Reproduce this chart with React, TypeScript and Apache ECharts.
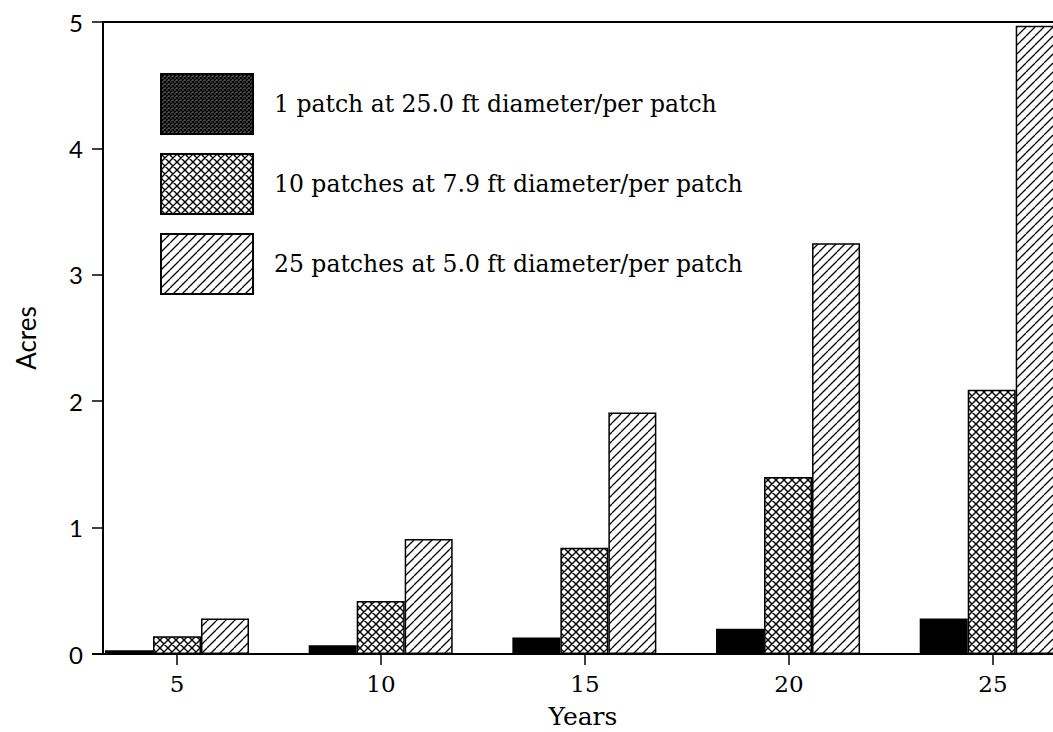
import React, { useEffect, useRef } from "react";
import * as echarts from "echarts";

const years = [5, 10, 15, 20, 25];
const yearLabels = years.map(String);
const onePatch = [0.03, 0.07, 0.13, 0.2, 0.28];
const tenPatches = [0.14, 0.42, 0.84, 1.4, 2.09];
const twentyFivePatches = [0.28, 0.91, 1.91, 3.25, 4.97];
const seriesNames = [
  "1 patch at 25.0 ft diameter/per patch",
  "10 patches at 7.9 ft diameter/per patch",
  "25 patches at 5.0 ft diameter/per patch",
];
const yTicks = [0, 1, 2, 3, 4, 5];

function makeTile(size: number, slash: boolean, back: boolean, lw: number, bg = "#fff") {
  const c = document.createElement("canvas");
  c.width = size;
  c.height = size;
  const ctx = c.getContext("2d")!;
  ctx.fillStyle = bg;
  ctx.fillRect(0, 0, size, size);
  ctx.strokeStyle = "#000";
  ctx.lineWidth = lw;
  ctx.beginPath();
  for (const o of [-size, 0, size]) {
    if (slash) {
      ctx.moveTo(o, size);
      ctx.lineTo(o + size, 0);
    }
    if (back) {
      ctx.moveTo(o, 0);
      ctx.lineTo(o + size, size);
    }
  }
  ctx.stroke();
  return c;
}

export default function App() {
  const ref = useRef<HTMLDivElement>(null);
  useEffect(() => {
    if (!ref.current) return;
    const chart = echarts.init(ref.current, undefined, { renderer: "svg" });
    const diag = { image: makeTile(9, true, false, 1.3), repeat: "repeat" };
    const cross = { image: makeTile(8, true, true, 1.4), repeat: "repeat" };
    const dense = { image: makeTile(4, true, true, 1.2, "#555"), repeat: "repeat" };
    const fills: any[] = ["#000", cross, diag];
    const valuesList = [onePatch, tenPatches, twentyFivePatches];
    chart.setOption({
      animation: false,
      grid: [
        {
          left: 103,
          top: 22,
          right: -10,
          bottom: 78,
          show: true,
          borderColor: "#000",
          borderWidth: 2,
          containLabel: false,
          outerBoundsMode: "none",
        },
        {
          left: 75,
          top: 22,
          right: -42,
          bottom: 78,
          show: false,
          containLabel: false,
          outerBoundsMode: "none",
        },
      ],
      legend: {
        orient: "vertical",
        left: 160,
        top: 73,
        padding: 0,
        itemWidth: 92,
        itemHeight: 60,
        itemGap: 18,
        icon: "rect",
        data: seriesNames.map((n, i) => ({
          name: n,
          itemStyle: { color: i === 0 ? dense : fills[i], borderColor: "#000", borderWidth: 2 },
        })),
        textStyle: {
          fontFamily: "DejaVu Serif",
          fontSize: 23.5,
          color: "#000",
          padding: [0, 0, 0, 16],
        },
      },
      xAxis: [
        {
          type: "value",
          gridIndex: 0,
          min: 3.183,
          max: 26.75,
          name: "Years",
          nameLocation: "middle",
          nameGap: 50,
          nameTextStyle: { fontFamily: "DejaVu Serif", fontSize: 25, color: "#000" },
          axisLine: { show: true, lineStyle: { color: "#000", width: 2 } },
          axisTick: { show: false },
          axisLabel: { show: false },
          splitLine: { show: false },
        },
        {
          type: "category",
          gridIndex: 1,
          position: "bottom",
          data: yearLabels,
          boundaryGap: true,
          axisLine: { show: true, onZero: false, lineStyle: { color: "rgba(0,0,0,0)" } },
          axisTick: {
            show: true,
            inside: false,
            alignWithLabel: true,
            length: 11,
            lineStyle: { color: "#000", width: 1.5 },
          },
          axisLabel: {
            margin: 18,
            fontFamily: "DejaVu Serif",
            fontSize: 23,
            color: "#000",
          },
          splitLine: { show: false },
        },
      ],
      yAxis: [
        {
          type: "value",
          gridIndex: 0,
          min: 0,
          max: 5,
          interval: 1,
          name: "Acres",
          nameLocation: "middle",
          nameGap: 64,
          nameTextStyle: { fontFamily: "Lato", fontSize: 26, color: "#000" },
          axisLine: { show: true, lineStyle: { color: "#000", width: 2 } },
          axisTick: { show: true, length: 11, lineStyle: { color: "#000", width: 1.5 } },
          axisLabel: {
            margin: 20,
            fontFamily: "Lato",
            fontSize: 24,
            color: "#000",
            formatter: (v: number) => (yTicks.includes(v) ? String(v) : ""),
          },
          splitLine: { show: false },
        },
        {
          type: "value",
          gridIndex: 1,
          min: 0,
          max: 5,
          show: false,
        },
      ],
      series: seriesNames.map((n, i) => ({
        name: n,
        type: "bar",
        xAxisIndex: 0,
        yAxisIndex: 0,
        barWidth: 48,
        barGap: "0%",
        data: years.map((y, j) => [y, valuesList[i][j]]),
        itemStyle: { color: fills[i], borderColor: "#000", borderWidth: 1.5 },
      })),
      graphic: [
        {
          type: "line",
          shape: { x1: 92, y1: 654, x2: 103, y2: 654 },
          style: { stroke: "#000", lineWidth: 2 },
        },
      ],
    });
    return () => chart.dispose();
  }, []);
  return (
    <div
      ref={ref}
      style={{ position: "fixed", left: 0, top: 0, width: 1053, height: 732, background: "#fff" }}
    />
  );
}
